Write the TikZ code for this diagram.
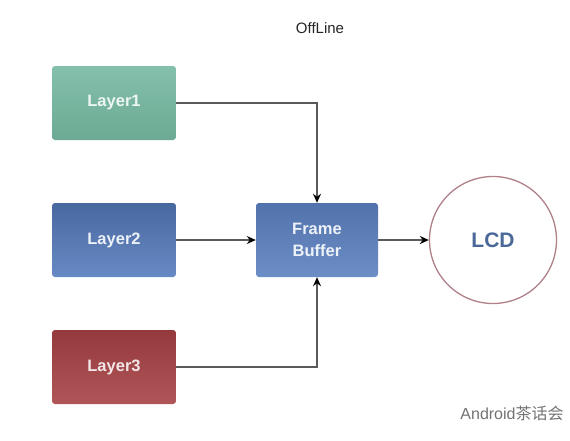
\documentclass[tikz,border=0pt]{standalone}
\usepackage{fontspec}
\setmainfont{Liberation Sans}
\newfontfamily\cjkfont{Noto Sans CJK SC}
\usetikzlibrary{arrows.meta,positioning}
\definecolor{clrTealT}{RGB}{132,192,171}
\definecolor{clrTealB}{RGB}{108,170,148}
\definecolor{clrBlueT}{RGB}{72,104,160}
\definecolor{clrBlueB}{RGB}{104,138,196}
\definecolor{clrBufT}{RGB}{82,114,172}
\definecolor{clrBufB}{RGB}{108,142,198}
\definecolor{clrRedT}{RGB}{148,58,60}
\definecolor{clrRedB}{RGB}{176,86,88}
\definecolor{clrLCD}{RGB}{176,128,136}
\definecolor{clrLCDtext}{RGB}{74,104,152}
\definecolor{clrLink}{RGB}{90,90,90}
\tikzset{
  layer/.style={rectangle,rounded corners=3pt,minimum width=124pt,
    minimum height=74pt,font=\fontsize{16.5}{18}\selectfont\bfseries,
    inner sep=0pt},
  buffer/.style={layer,minimum width=122pt,align=center,
    font=\fontsize{16.5}{22}\selectfont\bfseries,
    top color=clrBufT,bottom color=clrBufB,text=white!88!clrBufB},
  screen/.style={circle,draw=clrLCD,line width=1.3pt,minimum size=127pt,
    font=\fontsize{21}{24}\selectfont\bfseries,text=clrLCDtext,inner sep=0pt},
  link/.style={-{Stealth[length=9pt,width=8pt,color=black]},
    line width=1.8pt,draw=clrLink},
  caption/.style={font=\fontsize{15}{17}\selectfont,text=black!85}
}
\begin{document}
\begin{tikzpicture}[x=1pt,y=1pt]
  \useasboundingbox[fill=white] (0,0) rectangle (570,-440);

  \node[caption] (title) at (320,-28) {OffLine};

  % layers
  \node[layer,top color=clrTealT,bottom color=clrTealB,
    text=white!85!clrTealT] (layer1) at (114,-103) {Layer1};
  \node[layer,top color=clrBlueT,bottom color=clrBlueB,
    text=white!88!clrBlueB] (layer2) at (114,-240) {Layer2};
  \node[layer,top color=clrRedT,bottom color=clrRedB,
    text=white!85!clrRedB] (layer3) at (114,-367) {Layer3};

  % frame buffer and screen
  \node[buffer] (buffer) at (317,-240) {Frame\\Buffer};
  \node[screen] (lcd) at (493,-240) {LCD};

  % connectors
  \draw[link] (layer1.east) -| (buffer.north);
  \draw[link] (layer2.east) -- (buffer.west);
  \draw[link] (layer3.east) -| (buffer.south);
  \draw[link] (buffer.east) -- (lcd.west);

  \node[font=\fontsize{16}{18}\selectfont,text=black!55] (mark) at (512,-413)
    {Android{\cjkfont 茶话会}};
\end{tikzpicture}
\end{document}
